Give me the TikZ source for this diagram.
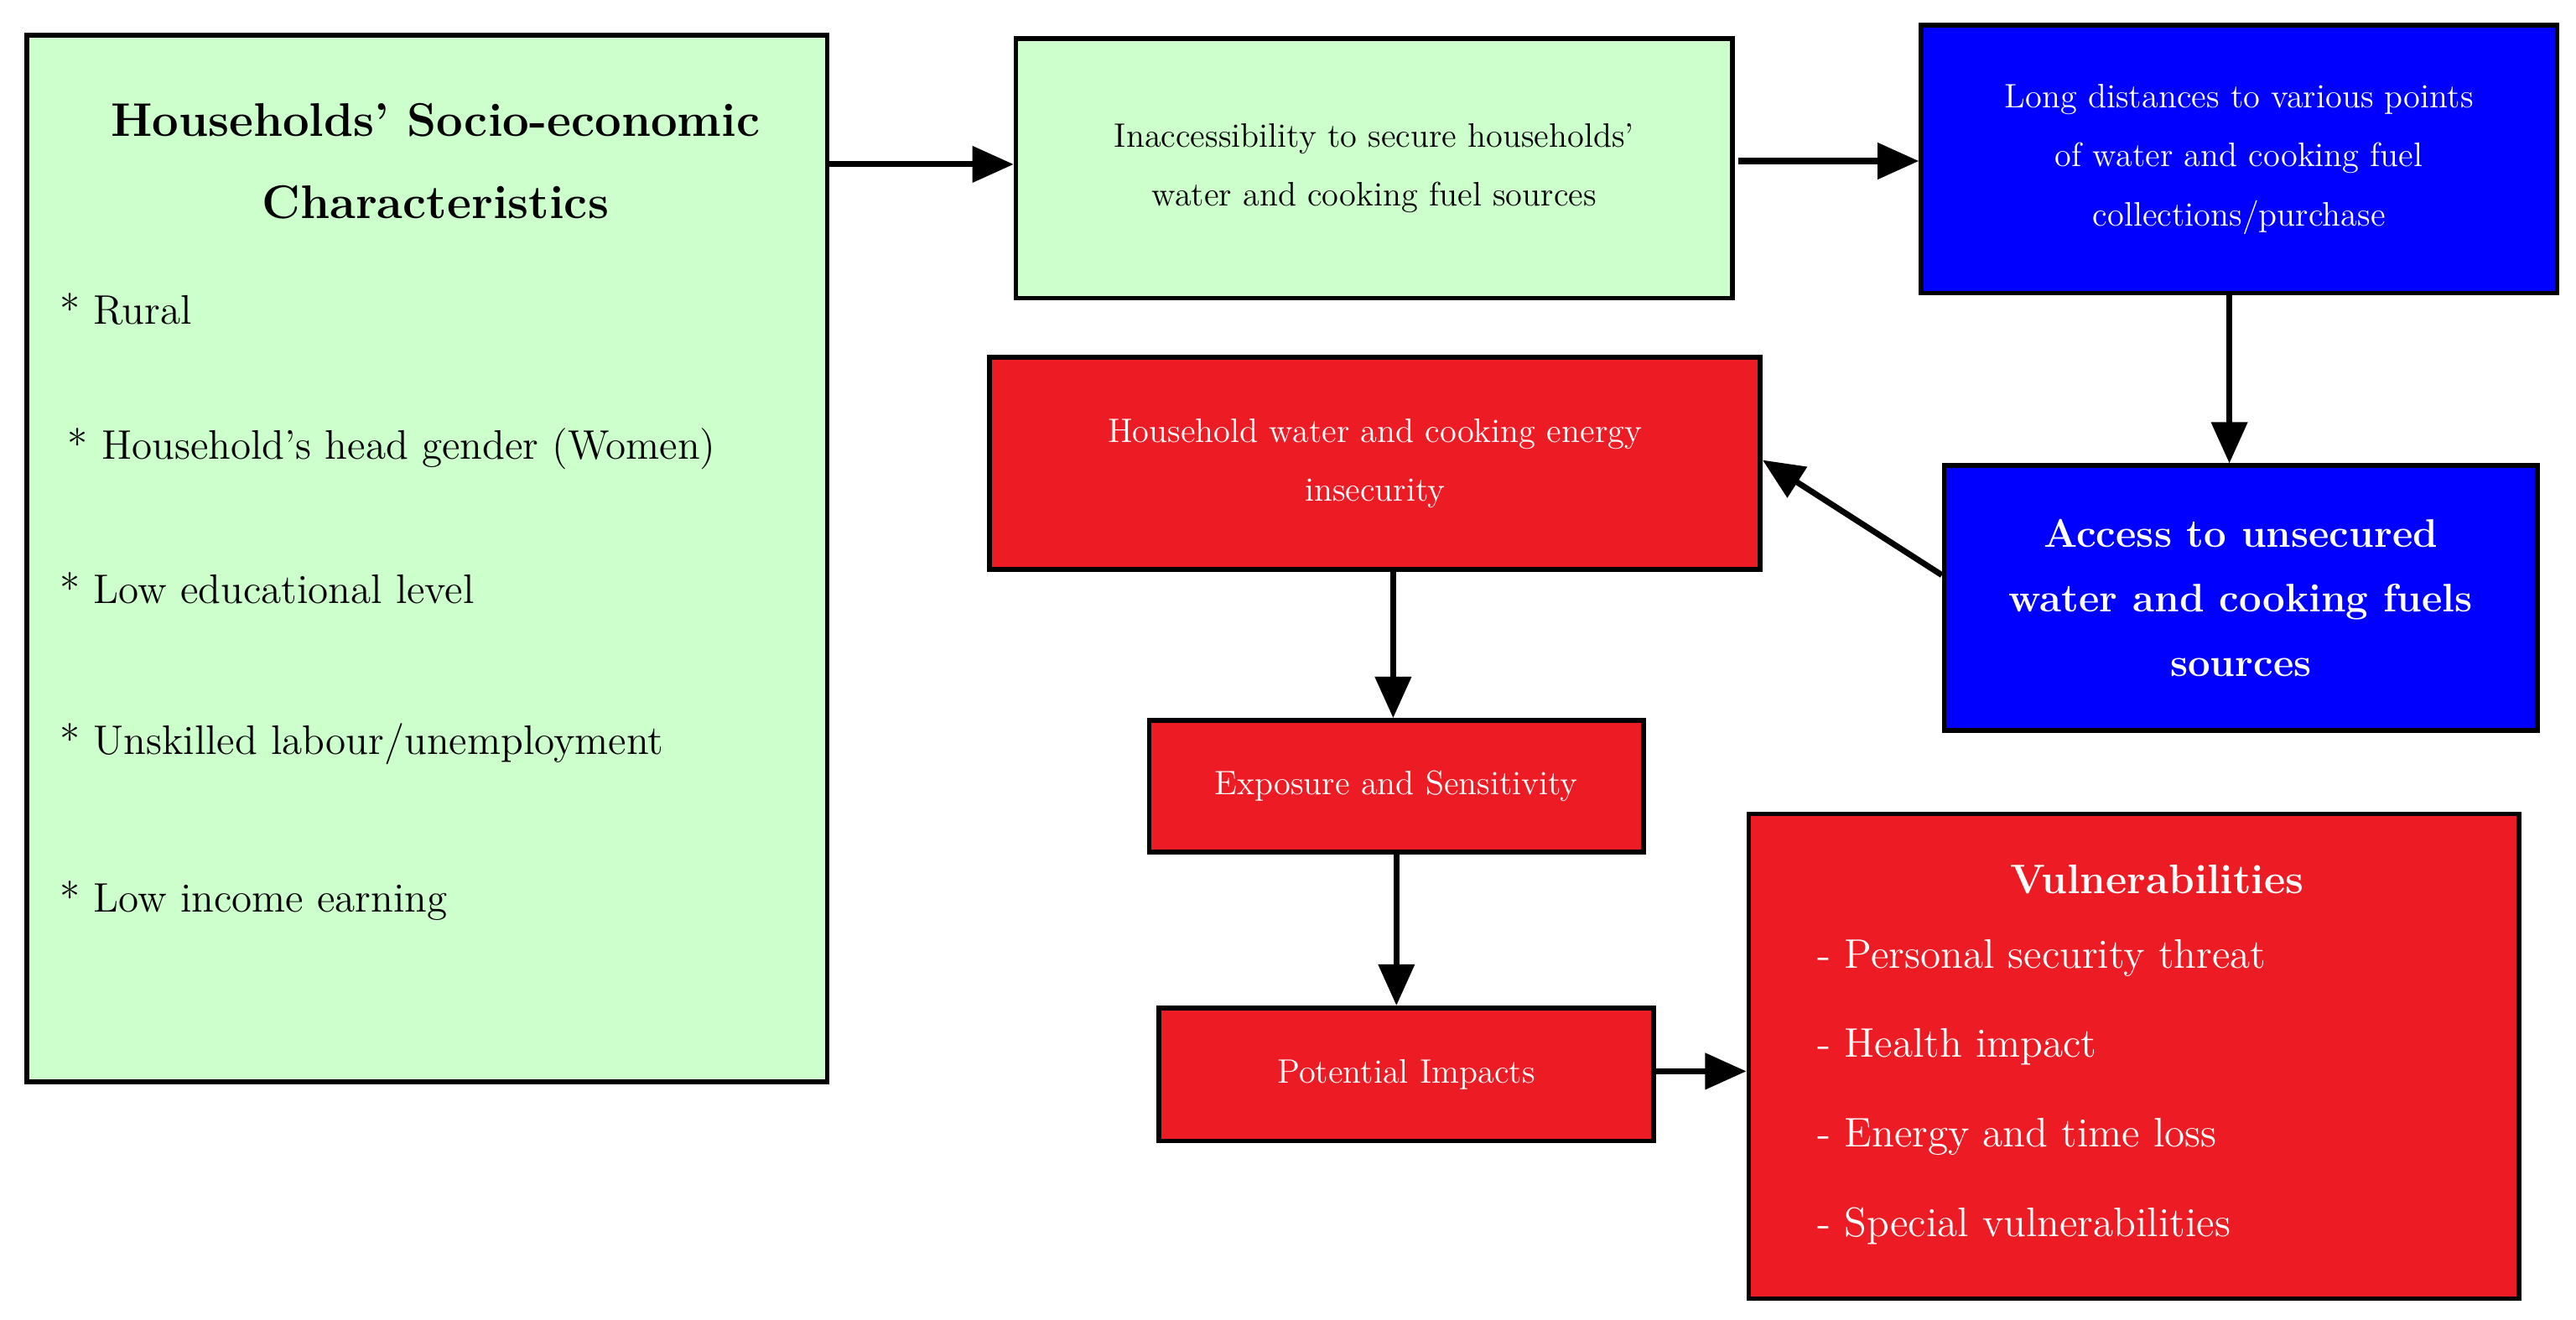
\documentclass[tikz,border=0pt]{standalone}
\usetikzlibrary{arrows.meta}
\definecolor{lgreen}{RGB}{204,255,204}
\definecolor{bblue}{RGB}{0,0,255}
\definecolor{rred}{RGB}{237,28,36}
\begin{document}
\begin{tikzpicture}[x=0.01959cm,y=-0.01959cm,
  box/.style={draw=black,line width=1.6pt,anchor=north west,inner sep=0pt},
  arr/.style={-{Triangle[length=14pt,width=12pt]},line width=2pt},
  wt/.style={text=white,align=center,font=\fontsize{11.5}{20}\selectfont},
  item/.style={anchor=west,font=\fontsize{14}{16}\selectfont}]
\useasboundingbox (0,0) rectangle (1568,803);
\node[box,fill=lgreen,minimum width=487*0.01959cm,minimum height=637*0.01959cm] (soc) at (15,20) {};
\node[align=center,font=\bfseries\fontsize{16}{28}\selectfont] (soct) at (265,98) {Households' Socio-economic\\Characteristics};
\node[item] (i1) at (30,188) {* Rural};
\node[item] (i2) at (35,273) {* Household's head gender (Women)};
\node[item] (i3) at (30,358) {* Low educational level};
\node[item] (i4) at (30,453) {* Unskilled labour/unemployment};
\node[item] (i5) at (30,548) {* Low income earning};

\node[box,fill=lgreen,minimum width=436*0.01959cm,minimum height=158*0.01959cm,align=center,font=\fontsize{11.5}{20}\selectfont] (ina) at (617,22) {Inaccessibility to secure households'\\water and cooking fuel sources};
\node[box,fill=bblue,minimum width=387*0.01959cm,minimum height=163*0.01959cm,wt] (long) at (1168,14) {Long distances to various points\\of water and cooking fuel\\collections/purchase};
\node[box,fill=rred,minimum width=469*0.01959cm,minimum height=129*0.01959cm,wt] (hh) at (601,216) {Household water and cooking energy\\insecurity};
\node[box,fill=bblue,minimum width=361*0.01959cm,minimum height=161*0.01959cm,wt,font=\bfseries\fontsize{13.5}{22}\selectfont] (acc) at (1182,282) {Access to unsecured\\water and cooking fuels\\sources};
\node[box,fill=rred,minimum width=301*0.01959cm,minimum height=80*0.01959cm,wt] (exp) at (698,437) {Exposure and Sensitivity};
\node[box,fill=rred,minimum width=301*0.01959cm,minimum height=81*0.01959cm,wt] (pot) at (704,612) {Potential Impacts};
\node[box,fill=rred,minimum width=469*0.01959cm,minimum height=295*0.01959cm] (vul) at (1063,494) {};
\node[text=white,font=\bfseries\fontsize{14}{16}\selectfont] (vt) at (1313,535) {Vulnerabilities};
\node[item,text=white] (v1) at (1100,583) {- Personal security threat};
\node[item,text=white] (v2) at (1100,637) {- Health impact};
\node[item,text=white] (v3) at (1100,692) {- Energy and time loss};
\node[item,text=white] (v4) at (1100,746) {- Special vulnerabilities};

\draw[arr] (soc.east |- 0,100) -- (ina.west |- 0,100);
\draw[arr] (1058,98) -- (long.west |- 0,98);
\draw[arr] (long.south -| 1357,0) -- (acc.north -| 1357,0);
\draw[arr] (acc.west |- 0,350) -- (hh.east |- 0,280);
\draw[arr] (hh.south -| 848,0) -- (exp.north -| 848,0);
\draw[arr] (exp.south -| 850,0) -- (pot.north -| 850,0);
\draw[arr] (pot.east |- 0,652) -- (vul.west |- 0,652);
\end{tikzpicture}
\end{document}
